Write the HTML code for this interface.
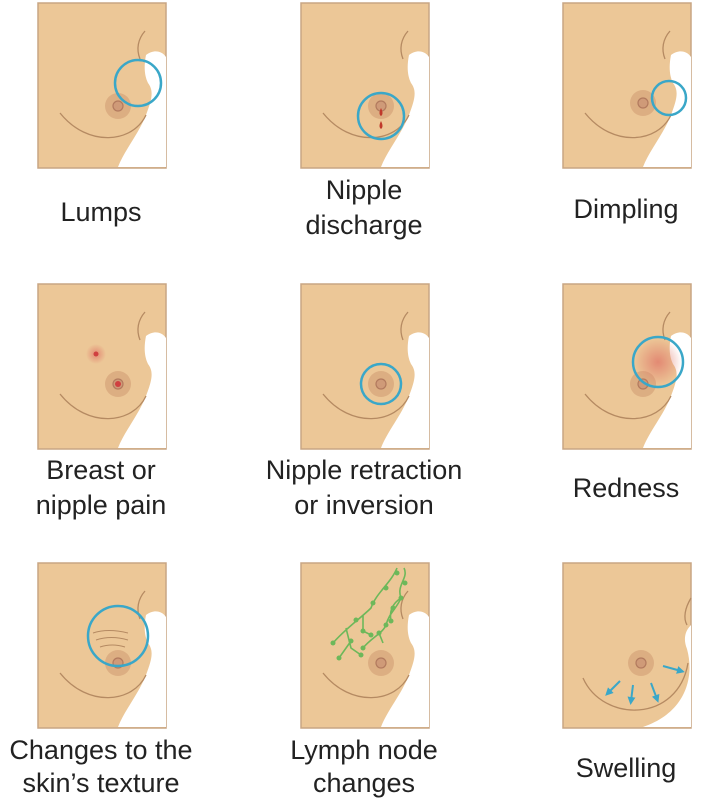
<!DOCTYPE html>
<html><head><meta charset="utf-8"><style>
html,body{margin:0;padding:0;background:#fff;width:727px;height:800px;overflow:hidden}
text{font-family:"Liberation Sans",sans-serif;font-size:27px;fill:#222;text-anchor:middle}
</style></head><body>
<svg width="727" height="800" viewBox="0 0 727 800">
<defs>
<g id="base">
<rect x="0" y="0" width="128" height="165" fill="#ecc797" stroke="#c8a584" stroke-width="1.5"/>
<path d="M108,52 C116,46 124,48 128,54 L128,164 L80,164 C86,148 100,132 108,112 C114,96 116,88 110,80 C106,72 106,62 108,52 Z" fill="#fff"/>
<path d="M107,28 C100,36 98,46 102,56" fill="none" stroke="#b58a62" stroke-width="1.3"/>
<path d="M108,112 C95,140 50,145 22,110" fill="none" stroke="#b58a62" stroke-width="1.3"/>
</g>
<g id="nip">
<circle r="13" fill="#dcae82"/><circle r="5" fill="#cf9a78" stroke="#b27a5e" stroke-width="1.2"/>
</g>
<radialGradient id="red"><stop offset="0" stop-color="#e07a6a" stop-opacity=".8"/><stop offset="1" stop-color="#e07a6a" stop-opacity="0"/></radialGradient>
<marker id="ar" viewBox="0 0 10 10" refX="5" refY="5" markerWidth="4" markerHeight="4" orient="auto"><path d="M0,0 L10,5 L0,10 Z" fill="#3aa7c8"/></marker>
</defs>

<g transform="translate(38,3)"><use href="#base"/><use href="#nip" x="80" y="103"/>
<circle cx="100" cy="80" r="23" fill="none" stroke="#3aa7c8" stroke-width="2.5"/></g>
<g transform="translate(301,3)"><use href="#base"/><use href="#nip" x="80" y="103"/>
<path d="M80,105 q-3,6 0,8 q3,-2 0,-8z M80,118 q-3,6 0,8 q3,-2 0,-8z" fill="#c0392b"/>
<circle cx="80" cy="113" r="23" fill="none" stroke="#3aa7c8" stroke-width="2.5"/></g>
<g transform="translate(563,3)"><use href="#base"/><use href="#nip" x="80" y="100"/>
<circle cx="106" cy="95" r="17" fill="none" stroke="#3aa7c8" stroke-width="2.5"/></g>

<g transform="translate(38,284)"><use href="#base"/><use href="#nip" x="80" y="100"/>
<circle cx="80" cy="100" r="3" fill="#d04040"/>
<circle cx="58" cy="70" r="10" fill="url(#red)"/><circle cx="58" cy="70" r="2.5" fill="#d04040"/></g>
<g transform="translate(301,284)"><use href="#base"/><use href="#nip" x="80" y="100"/>
<circle cx="80" cy="100" r="20" fill="none" stroke="#3aa7c8" stroke-width="2.5"/></g>
<g transform="translate(563,284)"><use href="#base"/><use href="#nip" x="80" y="100"/>
<circle cx="95" cy="78" r="24" fill="url(#red)"/>
<circle cx="95" cy="78" r="25" fill="none" stroke="#3aa7c8" stroke-width="2.5"/></g>

<g transform="translate(38,563)"><use href="#base"/><use href="#nip" x="80" y="100"/>
<path d="M55,70 q15,-5 35,0 M58,77 q15,-5 32,0 M62,84 q12,-4 25,0" fill="none" stroke="#b58a62" stroke-width="1"/>
<circle cx="80" cy="73" r="30" fill="none" stroke="#3aa7c8" stroke-width="2.5"/></g>
<g transform="translate(301,563)"><use href="#base"/><use href="#nip" x="80" y="100"/>
<g fill="none" stroke="#6db85a" stroke-width="1.6">
<path d="M96,5 C90,20 75,30 70,45 C60,55 45,65 32,80 M62,52 L62,68 L70,72 M45,65 L50,85 L60,92 M50,78 L38,95"/>
<path d="M103,5 C108,15 95,22 100,35 C96,45 88,50 85,62 C82,70 70,75 62,85 M100,35 C92,40 88,48 90,58 M78,70 L82,80"/>
</g>
<g fill="#6db85a"><circle cx="96" cy="10" r="2.5"/><circle cx="85" cy="25" r="2.5"/><circle cx="72" cy="40" r="2.5"/><circle cx="62" cy="68" r="2.5"/><circle cx="70" cy="72" r="2.5"/><circle cx="55" cy="57" r="2.5"/><circle cx="32" cy="80" r="2.5"/><circle cx="60" cy="92" r="2.5"/><circle cx="38" cy="95" r="2.5"/><circle cx="50" cy="78" r="2.5"/><circle cx="100" cy="35" r="2.5"/><circle cx="92" cy="45" r="2.5"/><circle cx="90" cy="58" r="2.5"/><circle cx="85" cy="62" r="2.5"/><circle cx="62" cy="85" r="2.5"/><circle cx="78" cy="70" r="2.5"/><circle cx="104" cy="20" r="2.5"/></g>
</g>
<g transform="translate(563,563)">
<rect x="0" y="0" width="128" height="165" fill="#ecc797" stroke="#c8a584" stroke-width="1.5"/>
<path d="M128,62 C122,68 120,76 124,86 C132,115 122,150 80,164 L128,164 Z" fill="#fff"/>
<path d="M128,35 C122,45 120,55 124,62" fill="none" stroke="#b58a62" stroke-width="1.3"/>
<path d="M125,100 C115,160 40,160 20,115" fill="none" stroke="#b58a62" stroke-width="1.3"/>
<use href="#nip" x="78" y="100"/>
<g stroke="#3aa7c8" stroke-width="2" marker-end="url(#ar)" fill="none">
<line x1="100" y1="103" x2="118" y2="108"/><line x1="57" y1="118" x2="45" y2="130"/><line x1="70" y1="122" x2="68" y2="138"/><line x1="88" y1="120" x2="94" y2="136"/></g>
</g>

<text x="101" y="221">Lumps</text>
<text x="364" y="199">Nipple</text><text x="364" y="234">discharge</text>
<text x="626" y="218">Dimpling</text>
<text x="101" y="479">Breast or</text><text x="101" y="514">nipple pain</text>
<text x="364" y="479">Nipple retraction</text><text x="364" y="514">or inversion</text>
<text x="626" y="497">Redness</text>
<text x="101" y="759">Changes to the</text><text x="101" y="792">skin’s texture</text>
<text x="364" y="759">Lymph node</text><text x="364" y="792">changes</text>
<text x="626" y="777">Swelling</text>
</svg>
</body></html>
